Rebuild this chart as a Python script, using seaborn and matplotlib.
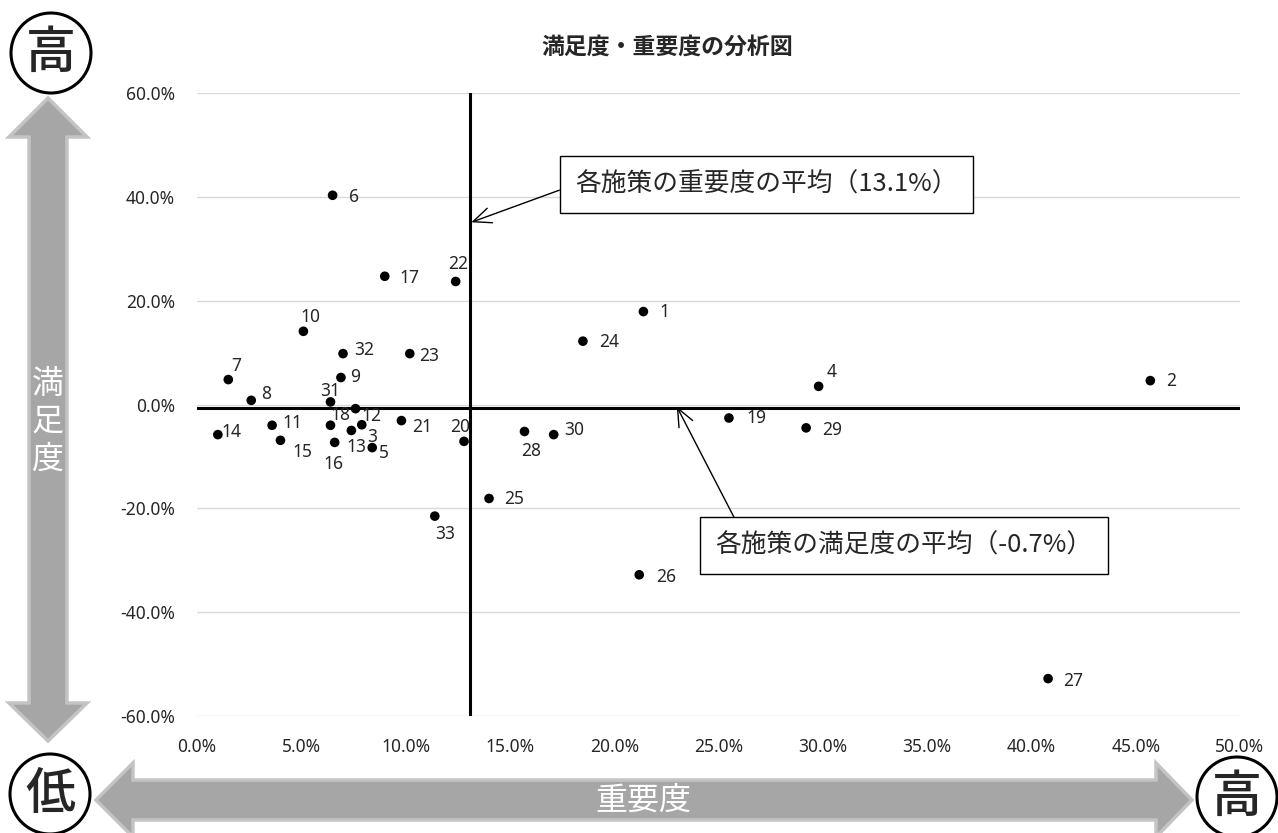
import pandas as pd
import seaborn as sns
import matplotlib.pyplot as plt
from matplotlib.patches import Polygon, Circle
from matplotlib.ticker import FuncFormatter

# 施策番号、重要度(%)、満足度(%)
ids = [str(i) for i in range(1, 34)]
importance = [21.4, 45.7, 7.6, 29.8, 8.4, 6.5, 1.5, 2.6, 6.9, 5.1, 3.6, 7.9, 7.4, 1.0, 4.0, 6.6, 9.0,
              6.4, 25.5, 12.8, 9.8, 12.4, 10.2, 18.5, 14.0, 21.2, 40.8, 15.7, 29.2, 17.1, 6.4, 7.0, 11.4]
satisfaction = [17.9, 4.6, -0.8, 3.5, -8.3, 40.3, 4.8, 0.8, 5.2, 14.1, -4.0, -3.9, -5.0, -5.8, -6.9, -7.3, 24.7,
                -4.0, -2.6, -7.1, -3.1, 23.7, 9.8, 12.2, -18.1, -32.8, -52.8, -5.2, -4.5, -5.8, 0.5, 9.8, -21.5]
mean_imp = 13.1
mean_sat = -0.7
x_ticks = [0, 5, 10, 15, 20, 25, 30, 35, 40, 45, 50]
y_ticks = [-60, -40, -20, 0, 20, 40, 60]

# label offsets from the point, in pixels (x right, y down)
label_off = [(21, 0), (21, 0), (17, 28), (13, -14), (12, 5), (21, 2), (8, -14), (15, -6), (14, -1), (7, -14),
             (20, -2), (10, -9), (5, 17), (14, -3), (22, 12), (-1, 22), (25, 2), (10, -10), (27, 0), (-4, -14),
             (21, 6), (2, -17), (19, 2), (26, 1), (25, 1), (27, 2), (25, 2), (7, 20), (26, 2), (20, -5),
             (0, -11), (21, -4), (10, 18)]

df = pd.DataFrame({'id': ids, 'importance': importance, 'satisfaction': satisfaction})

sns.set_style('white')
plt.rcParams['font.family'] = ['Noto Sans', 'Noto Sans CJK JP']
jp = ['Noto Sans CJK JP', 'DejaVu Sans']

W, H = 1278, 833
fig = plt.figure(figsize=(W / 100, H / 100), dpi=100)

# decoration layer in pixel coords
deco = fig.add_axes([0, 0, 1, 1], zorder=0)
deco.set_xlim(0, W)
deco.set_ylim(H, 0)
deco.axis('off')

grey = '#A6A6A6'
edge = '#C4C4C4'
vcx = 48
varrow = [(vcx, 98), (vcx + 39, 137), (vcx + 19, 137), (vcx + 19, 703), (vcx + 39, 703), (vcx, 741),
          (vcx - 39, 703), (vcx - 19, 703), (vcx - 19, 137), (vcx - 39, 137)]
deco.add_patch(Polygon(varrow, closed=True, fc=grey, ec=edge, lw=2.5))
hcy = 800
harrow = [(96, hcy), (133, hcy - 37), (133, hcy - 20), (1156, hcy - 20), (1156, hcy - 37), (1192, hcy),
          (1156, hcy + 37), (1156, hcy + 20), (133, hcy + 20), (133, hcy + 37)]
deco.add_patch(Polygon(harrow, closed=True, fc=grey, ec=edge, lw=2.5))

for i, ch in enumerate('満足度'):
    deco.text(vcx, 384 + i * 38, ch, color='white', fontsize=23, ha='center', va='center', family=jp)
deco.text(643, hcy + 1, '重要度', color='white', fontsize=23, ha='center', va='center', family=jp)

for (cx, cy, ch) in [(51, 53, '高'), (50, 794, '低'), (1237, 797, '高')]:
    deco.add_patch(Circle((cx, cy), 40, fc='white', ec='black', lw=2.2))
    deco.text(cx, cy + 1, ch, fontsize=36, ha='center', va='center', family=jp, fontweight='medium')

fig.text(667 / W, 1 - 47 / H, '満足度・重要度の分析図', fontsize=16.5, fontweight='bold',
         ha='center', va='center', family=jp)

# main plot
ax = fig.add_axes([197 / W, 1 - 716 / H, (1240 - 197) / W, (716 - 93) / H], zorder=1)
ax.patch.set_alpha(0)
sns.scatterplot(data=df, x='importance', y='satisfaction', color='black', s=48,
                edgecolor='none', ax=ax, zorder=4)
ax.set_xlim(0, 50)
ax.set_ylim(-60, 60)
ax.set_xticks(x_ticks)
ax.set_yticks(y_ticks)
pct = FuncFormatter(lambda v, p: f'{v:.1f}%')
ax.xaxis.set_major_formatter(pct)
ax.yaxis.set_major_formatter(pct)
ax.tick_params(axis='x', length=0, pad=16, labelsize=12.5)
ax.tick_params(axis='y', length=0, pad=16, labelsize=12.5)
ax.set_xlabel('')
ax.set_ylabel('')
ax.yaxis.grid(True, color='#D9D9D9', lw=1)
ax.xaxis.grid(False)
ax.set_axisbelow(True)
for s in ax.spines.values():
    s.set_visible(False)

ax.axvline(mean_imp, color='black', lw=2.2, zorder=3)
ax.axhline(mean_sat, color='black', lw=2.2, zorder=3)

for (lab, xv, yv), (dx, dy) in zip(zip(ids, importance, satisfaction), label_off):
    ax.annotate(lab, (xv, yv), xytext=(dx * 0.72, -dy * 0.72), textcoords='offset points',
                ha='center', va='center', fontsize=12.5, zorder=5)

box = dict(boxstyle='square,pad=0.6', fc='white', ec='black', lw=1)
ax.annotate(f'各施策の重要度の平均（{mean_imp}%）', xy=(13.15, 35.1), xytext=(27.3, 42.4),
            textcoords='data', ha='center', va='center', fontsize=18.5, family=jp, bbox=box,
            annotation_clip=False, zorder=6,
            arrowprops=dict(arrowstyle='->,head_length=0.7,head_width=0.3', color='black', lw=1,
                            relpos=(0, 0.5), shrinkA=0, shrinkB=0))
ax.annotate(f'各施策の満足度の平均（{mean_sat}%）', xy=(23.0, -0.4), xytext=(33.9, -27.2),
            textcoords='data', ha='center', va='center', fontsize=18.5, family=jp, bbox=box,
            annotation_clip=False, zorder=6,
            arrowprops=dict(arrowstyle='->,head_length=0.7,head_width=0.3', color='black', lw=1,
                            relpos=(0.07, 1), shrinkA=0, shrinkB=0))

fig.savefig('out.png', dpi=100)
